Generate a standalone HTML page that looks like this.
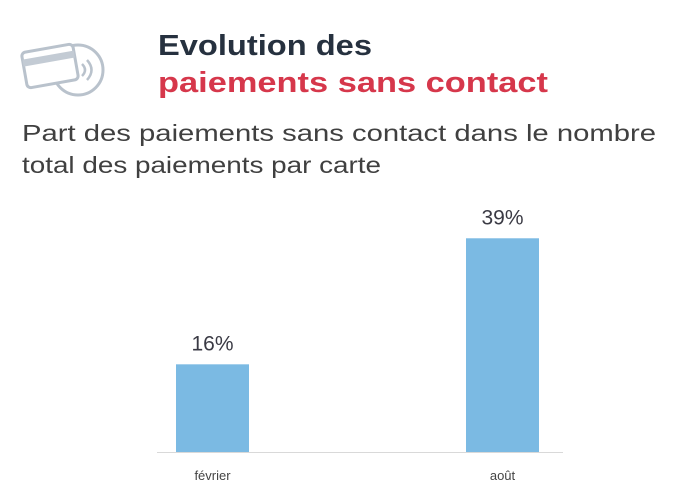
<!DOCTYPE html>
<html><head><meta charset="utf-8"><style>
body{margin:0;width:700px;height:488px;background:#fff;overflow:hidden;font-family:"Liberation Sans",sans-serif}
</style></head><body>
<svg width="700" height="488">
<g fill="none" stroke="#b9c2cc" stroke-width="3">
<circle cx="78" cy="70" r="25"/>
<rect x="24" y="48" width="52" height="36" rx="4" transform="rotate(-10 50 66)" fill="#fff"/>
<rect x="24" y="55" width="52" height="7" transform="rotate(-10 50 66)" fill="#c3cbd4" stroke="none"/>
<path d="M82 64 q6 6 0 12 M87 60 q9 10 0 20" stroke-width="2.5"/>
</g>
<text x="158" y="55" font-size="29" font-weight="bold" fill="#26313f" textLength="214" lengthAdjust="spacingAndGlyphs">Evolution des</text>
<text x="158" y="92" font-size="29" font-weight="bold" fill="#d6374b" textLength="390" lengthAdjust="spacingAndGlyphs">paiements sans contact</text>
<text x="22" y="141" font-size="23" fill="#404040" textLength="634" lengthAdjust="spacingAndGlyphs">Part des paiements sans contact dans le nombre</text>
<text x="22" y="173" font-size="23" fill="#404040" textLength="359" lengthAdjust="spacingAndGlyphs">total des paiements par carte</text>
<line x1="157" y1="452.5" x2="563" y2="452.5" stroke="#d9d9d9"/>
<g id="bars"></g>
</svg>
<script>
const categories=["février","août"];
const values=[16,39];
const labels=["16%","39%"];
const base=452, scale=5.48, xs=[176,466], bw=73;
function y(v){return base-v*scale;}
const g=document.getElementById('bars');
const ns="http://www.w3.org/2000/svg";
categories.forEach((c,i)=>{
 const r=document.createElementNS(ns,'rect');
 r.setAttribute('x',xs[i]);r.setAttribute('y',y(values[i]));r.setAttribute('width',bw);r.setAttribute('height',base-y(values[i]));r.setAttribute('fill','#7bbae3');
 
 
 g.appendChild(r);
 const t=document.createElementNS(ns,'text');
 t.setAttribute('x',xs[i]+bw/2);t.setAttribute('y',y(values[i])-14);t.setAttribute('text-anchor','middle');t.setAttribute('font-size','21');t.setAttribute('fill','#3a3a44');
 t.textContent=labels[i];
 
 
 g.appendChild(t);
 const l=document.createElementNS(ns,'text');
 l.setAttribute('x',xs[i]+bw/2);l.setAttribute('y',480);l.setAttribute('text-anchor','middle');l.setAttribute('font-size','13');l.setAttribute('fill','#444');
 l.textContent=c;
 
 
 g.appendChild(l);
});
</script>
</body></html>
